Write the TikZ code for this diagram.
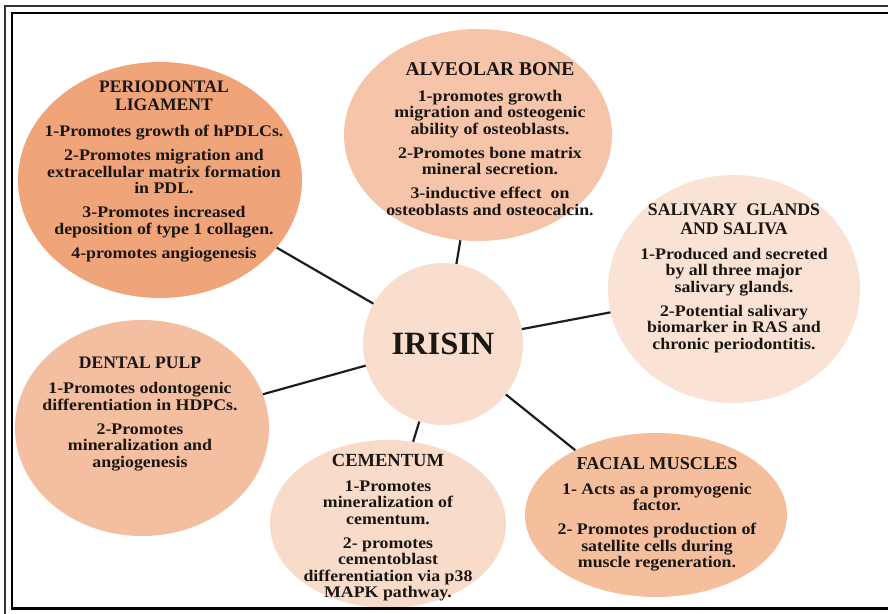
\documentclass[tikz,border=0pt]{standalone}
\usepackage{fontspec}
\usetikzlibrary{shapes.geometric}
\newfontfamily\bubblefont{Liberation Serif}[FakeStretch=1.1]
\newfontfamily\titlefont{Liberation Serif}
\newfontfamily\hubfont{Liberation Serif}
\definecolor{cPDL}{RGB}{240,164,121}
\definecolor{cALV}{RGB}{245,196,169}
\definecolor{cSAL}{RGB}{250,226,212}
\definecolor{cDEN}{RGB}{244,190,160}
\definecolor{cCEM}{RGB}{248,219,201}
\definecolor{cFAC}{RGB}{245,190,157}
\definecolor{cIRI}{RGB}{249,222,206}
\definecolor{txtcol}{RGB}{25,22,20}
\definecolor{linecol}{RGB}{30,30,30}
\newcommand\ttl[2]{{\titlefont\bfseries\fontsize{#1}{#1}\selectfont #2}}
\tikzset{
  bubble/.style={ellipse, draw=none, inner sep=0pt},
  txt/.style={align=center, inner sep=0pt, anchor=north, text=txtcol,
    font=\bubblefont\bfseries\fontsize{16.2}{16.5}\selectfont},
  conn/.style={line width=2.2pt, draw=linecol},
  frameouter/.style={line width=2pt, draw=black!80},
  frameinner/.style={line width=2.5pt, draw=black},
}
\begin{document}
\begin{tikzpicture}[x=1pt,y=-1pt]
\useasboundingbox (0,0) rectangle (888,613);
% bubbles
\node[bubble, fill=cPDL, minimum width=284pt, minimum height=236pt] (pdl) at (160,180) {};
\node[bubble, fill=cALV, minimum width=268pt, minimum height=212pt] (alv) at (478,135) {};
\node[bubble, fill=cSAL, minimum width=252pt, minimum height=228pt] (sal) at (734,289) {};
\node[bubble, fill=cDEN, minimum width=254pt, minimum height=216pt] (den) at (142,428) {};
\node[bubble, fill=cCEM, minimum width=236pt, minimum height=168pt] (cem) at (388,524) {};
\node[bubble, fill=cFAC, minimum width=262pt, minimum height=164pt] (fac) at (656,515) {};
\node[bubble, fill=cIRI, minimum width=160pt, minimum height=162pt] (iri) at (443,344) {};
% connectors
\draw[conn] (iri) -- (pdl);
\draw[conn] (iri) -- (alv);
\draw[conn] (iri) -- (sal);
\draw[conn] (iri) -- (den);
\draw[conn] (iri) -- (cem);
\draw[conn] (iri) -- (fac);
% frame
\draw[frameouter] (5,614) -- (5,6) -- (890,6);
\draw[frameinner] (890,608.5) -- (12,608.5) -- (12,13) -- (890,13);
% texts
\node[text=txtcol, font=\hubfont\bfseries\fontsize{32.5}{34}\selectfont] (iritxt) at (443,344) {IRISIN};
\node[txt] (pdltxt) at (164,81) {\ttl{17.6}{PERIODONTAL}\\[1.5pt]\ttl{17.6}{LIGAMENT}\\[9.5pt]
1-Promotes growth of hPDLCs.\\[7.5pt]
2-Promotes migration and\\extracellular matrix formation\\in PDL.\\[7.5pt]
3-Promotes increased\\deposition of type 1 collagen.\\[7.5pt]
4-promotes angiogenesis};
\node[txt] (alvtxt) at (490,62) {\ttl{19.5}{ALVEOLAR BONE}\\[9.5pt]
1-promotes growth\\migration and osteogenic\\ability of osteoblasts.\\[7.5pt]
2-Promotes bone matrix\\mineral secretion.\\[7.5pt]
3-inductive effect\ \ on\\osteoblasts and osteocalcin.};
\node[txt] (saltxt) at (734,204) {\ttl{17.7}{SALIVARY\ \ GLANDS}\\[2pt]\ttl{17.7}{AND SALIVA}\\[8.5pt]
1-Produced and secreted\\by all three major\\salivary glands.\\[7.5pt]
2-Potential salivary\\biomarker in RAS and\\chronic periodontitis.};
\node[txt] (dentxt) at (140,357) {\ttl{17.6}{DENTAL PULP}\\[8.5pt]
1-Promotes odontogenic\\differentiation in HDPCs.\\[7.5pt]
2-Promotes\\mineralization and\\angiogenesis};
\node[txt] (cemtxt) at (388,454) {\ttl{18.5}{CEMENTUM}\\[8.5pt]
1-Promotes\\mineralization of\\cementum.\\[7.5pt]
2- promotes\\cementoblast\\differentiation via p38\\MAPK pathway.};
\node[txt] (factxt) at (657,457) {\ttl{18.2}{FACIAL MUSCLES}\\[8.5pt]
1- Acts as a promyogenic\\factor.\\[7.5pt]
2- Promotes production of\\satellite cells during\\muscle regeneration.};
\end{tikzpicture}
\end{document}
